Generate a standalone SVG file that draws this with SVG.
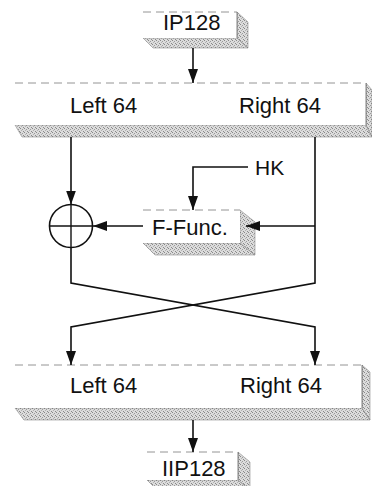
<svg xmlns="http://www.w3.org/2000/svg" width="372" height="486" viewBox="0 0 372 486">
<style>
  .front { fill: #ffffff; stroke: none; }
  .topedge { fill: none; stroke: #888888; stroke-width: 0.9; stroke-dasharray: 8 5; }
  .sideedge { fill: none; stroke: #666666; stroke-width: 0.8; }
  .shade { fill: url(#stip); stroke: #777777; stroke-width: 0.5; }
  .lbl { font-family: "Liberation Sans", Arial, sans-serif; font-size: 22px; fill: #111111; }
  .wire { fill: none; stroke: #111111; stroke-width: 1.6; }
</style>
<defs>
  <pattern id="stip" width="4" height="4" patternUnits="userSpaceOnUse">
    <rect width="4" height="4" fill="#dcdcdc"/>
    <rect x="0" y="0" width="1" height="1" fill="#888888"/>
    <rect x="2" y="1" width="1" height="1" fill="#9a9a9a"/>
    <rect x="1" y="2" width="1" height="1" fill="#b0b0b0"/>
    <rect x="3" y="3" width="1" height="1" fill="#8a8a8a"/>
  </pattern>
  <marker id="ah" viewBox="0 0 14 10" refX="14" refY="5" markerWidth="14" markerHeight="10" markerUnits="userSpaceOnUse" orient="auto">
    <path d="M0,0 L14,5 L0,10 Z" fill="#111111"/>
  </marker>
</defs>
<rect width="372" height="486" fill="#ffffff"/>

<g id="ip128">
  <polygon class="shade" points="143,38 237,38 248,48 153,48"/>
  <polygon class="shade" points="237,12 248,22 248,48 237,38"/>
  <rect class="front" x="143" y="12" width="94" height="26"/>
  <line class="topedge" x1="143" y1="12" x2="237" y2="12"/>
  <line class="sideedge" x1="237" y1="12" x2="237" y2="38"/>
  <text class="lbl" x="163" y="30">IP128</text>
</g>

<g id="top-bar">
  <polygon class="shade" points="15,125 366,125 372,137 22,137"/>
  <polygon class="shade" points="366,83 372,90 372,137 366,125"/>
  <rect class="front" x="15" y="83" width="351" height="42"/>
  <line class="topedge" x1="15" y1="83" x2="366" y2="83"/>
  <line class="sideedge" x1="366" y1="83" x2="366" y2="125"/>
  <text class="lbl" x="70" y="113">Left 64</text>
  <text class="lbl" x="239" y="113">Right 64</text>
</g>

<g id="xor">
  <circle cx="71" cy="226" r="21.5" fill="#ffffff" stroke="#111111" stroke-width="1.6"/>
  <line x1="71" y1="204.5" x2="71" y2="247.5" stroke="#111111" stroke-width="1.4"/>
  <line x1="49.5" y1="226" x2="92.5" y2="226" stroke="#111111" stroke-width="1.4"/>
</g>

<g id="f-func">
  <polygon class="shade" points="143,243 240,243 255,255 155,255"/>
  <polygon class="shade" points="240,210 255,222 255,255 240,243"/>
  <rect class="front" x="143" y="210" width="97" height="33"/>
  <line class="topedge" x1="143" y1="210" x2="240" y2="210"/>
  <text class="lbl" x="152" y="235">F-Func.</text>
</g>

<g id="hk">
  <text class="lbl" x="255" y="175" style="font-size:21px">HK</text>
</g>

<g id="bottom-bar">
  <polygon class="shade" points="15,408 362,408 370,420 24,420"/>
  <polygon class="shade" points="362,365 370,372 370,420 362,408"/>
  <rect class="front" x="15" y="365" width="347" height="43"/>
  <line class="topedge" x1="15" y1="365" x2="362" y2="365"/>
  <line class="sideedge" x1="362" y1="365" x2="362" y2="408"/>
  <text class="lbl" x="70" y="393">Left 64</text>
  <text class="lbl" x="240" y="393">Right 64</text>
</g>

<g id="iip128">
  <polygon class="shade" points="147,480 238,480 250,490 157,490"/>
  <polygon class="shade" points="238,452 250,462 250,490 238,480"/>
  <rect class="front" x="147" y="452" width="91" height="28"/>
  <line class="topedge" x1="147" y1="452" x2="238" y2="452"/>
  <line class="sideedge" x1="238" y1="452" x2="238" y2="480"/>
  <text class="lbl" x="162" y="476">IIP128</text>
</g>

<g id="connectors">
  <line class="wire" x1="193" y1="48" x2="193" y2="83" marker-end="url(#ah)"/>
  <line class="wire" x1="71" y1="137" x2="71" y2="204.5" marker-end="url(#ah)"/>
  <polyline class="wire" points="315,137 315,283 71,327 71,365" marker-end="url(#ah)"/>
  <polyline class="wire" points="71,247.5 71,283 315,327 315,365" marker-end="url(#ah)"/>
  <line class="wire" x1="315" y1="226" x2="246" y2="226" marker-end="url(#ah)"/>
  <line class="wire" x1="143" y1="226" x2="93" y2="226" marker-end="url(#ah)"/>
  <polyline class="wire" points="248,167 193,167 193,210" marker-end="url(#ah)"/>
  <line class="wire" x1="193" y1="420" x2="193" y2="452" marker-end="url(#ah)"/>
</g>
</svg>
